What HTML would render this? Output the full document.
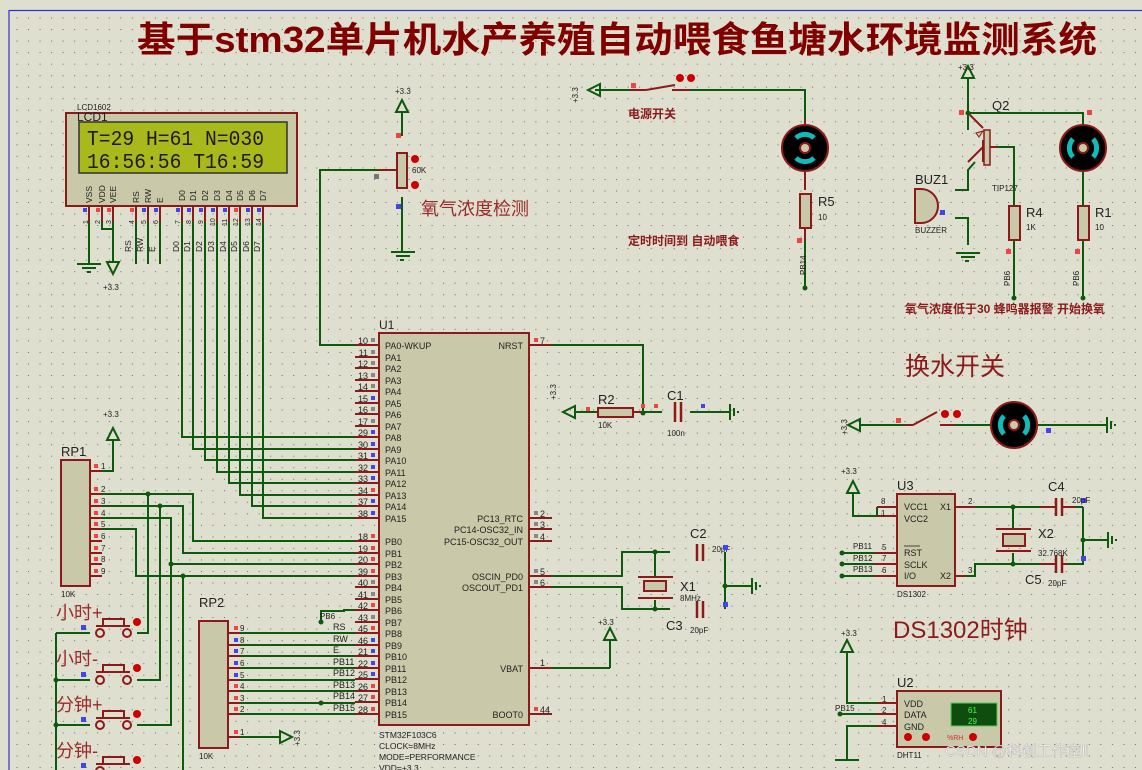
<!DOCTYPE html>
<html><head><meta charset="utf-8"><style>
html,body{margin:0;padding:0;background:#dfdfd0;}
svg{display:block;}
text{font-family:"Liberation Sans","Noto Sans CJK SC",sans-serif;}
text.mono{font-family:"Liberation Mono",monospace;}
</style></head><body>
<svg width="1142" height="770" viewBox="0 0 1142 770" xmlns="http://www.w3.org/2000/svg">
<defs>
<pattern id="g" x="5" y="6" width="11.53" height="11.53" patternUnits="userSpaceOnUse"><rect x="0" y="0" width="1" height="1" fill="#666"/></pattern>
</defs>
<rect width="1142" height="770" fill="#dfdfd0"/>
<rect x="9" y="11" width="1133" height="759" fill="url(#g)"/>
<line x1="9" y1="10.5" x2="1142" y2="10.5" stroke="#3030d0" stroke-width="1.2"/>
<line x1="9" y1="10" x2="9" y2="770" stroke="#3030d0" stroke-width="1.2"/>

<text x="137" y="52" font-size="36" font-weight="bold" fill="#800000" textLength="960" lengthAdjust="spacingAndGlyphs">基于stm32单片机水产养殖自动喂食鱼塘水环境监测系统</text>

<g stroke="#0d5a0d" stroke-width="2" fill="none">
<path d="M89 222V264M102 222V229H113V222M113 229V262M136 222V264M148 222V264M160 222V264"/>
<path d="M182 222V437H355M193 222V449H355M205 222V460H355M217 222V472H355M229 222V483H355M240 222V495H355M252 222V506H355M263 222V518H355"/>
<path d="M402 112V136M402 197V252M378 170H320V345H355"/>
<path d="M102 471H113V440"/>
<path d="M102 494H193V541H355M148 494V633H137"/>
<path d="M102 506H183V553H355M160 506V680H137"/>
<path d="M102 518H171V725H137M171 564H355"/>
<path d="M102 529H136V576H355M183 576V770"/>
<path d="M56 633V770M56 633H90M56 680H90M56 725H90"/>
<path d="M240 633H355M240 645H355M240 656H355M240 668H355M240 680H355M240 691H355M240 703H355M240 714H355M321 622V611H344V610H355M240 737H280"/>
<path d="M540 345H643V412M575 412H598M643 412H662M690 412H730"/>
<path d="M540 576H622V552H670M540 587H622V609H670M655 552V578M655 600V609M725 552V609M725 586H752M610 668H540M610 668V640"/>
<path d="M595 90H630M690 90H805V125M805 172V190M805 232V288"/>
<path d="M968 78V113H1083V125M968 113V130M975 162L968 170V190H955M955 218H968V245M995 147H1014V205M1014 240V298M1083 172V205M1083 240V298"/>
<path d="M860 425H905M955 425H990M1038 425H1107"/>
<path d="M853 493V516H877V507M877 516H887M842 553H875M842 564H875M842 576H875M975 507H1040M1013 507V530M1013 553V564H975V576H965M1013 564H1040M1083 507V564H1068M1083 540H1108M1075 507H1083"/>
<path d="M847 652V703H877M840 714H877M877 726H847V760"/>
</g>

<g stroke="#0d5a0d" stroke-width="2" fill="none">
<path d="M77 264H101M82 268H96M87 272H91"/>
<path d="M107 262L113 274L119 262Z"/>
<path d="M391 252H415M396 256H410M400 260H404"/>
<path d="M396 112L402 100L408 112Z"/>
<path d="M107 440L113 428L119 440Z"/>
<path d="M280 731L292 737L280 743Z"/>
<path d="M575 406L563 412L575 418Z"/>
<path d="M730 404V420M734 408V416M738 411V413"/>
<path d="M752 578V594M756 582V590M760 585V587"/>
<path d="M604 640L610 628L616 640Z"/>
<path d="M600 84L588 90L600 96Z"/>
<path d="M962 78L968 66L974 78Z"/>
<path d="M956 253H980M961 257H975M965 261H969"/>
<path d="M860 419L848 425L860 431Z"/>
<path d="M1107 417V433M1111 421V429M1115 424V426"/>
<path d="M847 493L853 481L859 493Z"/>
<path d="M1108 532V548M1112 536V544M1116 539V541"/>
<path d="M841 652L847 640L853 652Z"/>
<path d="M835 760H859"/>
</g>

<!-- LCD -->
<rect x="66" y="113" width="231" height="93" fill="#c9c9a9" stroke="#8b1a1a" stroke-width="2"/>
<rect x="79" y="122" width="208" height="51" fill="#a9b81a" stroke="#333" stroke-width="1.5"/>
<text class="mono" x="87" y="145" font-size="21" fill="#1a1a1a" textLength="177" lengthAdjust="spacingAndGlyphs">T=29 H=61 N=030</text>
<text class="mono" x="87" y="168" font-size="21" fill="#1a1a1a" textLength="177" lengthAdjust="spacingAndGlyphs">16:56:56 T16:59</text>
<text x="77" y="110" font-size="8" fill="#222">LCD1602</text>
<text x="77" y="121" font-size="12" fill="#222">LCD1</text>
<g font-size="8.5" fill="#222">
<text transform="translate(92,203) rotate(-90)">VSS</text>
<text transform="translate(105,203) rotate(-90)">VDD</text>
<text transform="translate(116,203) rotate(-90)">VEE</text>
<text transform="translate(139,203) rotate(-90)">RS</text>
<text transform="translate(151,203) rotate(-90)">RW</text>
<text transform="translate(163,203) rotate(-90)">E</text>
<text transform="translate(185,201) rotate(-90)">D0</text>
<text transform="translate(196,201) rotate(-90)">D1</text>
<text transform="translate(208,201) rotate(-90)">D2</text>
<text transform="translate(220,201) rotate(-90)">D3</text>
<text transform="translate(232,201) rotate(-90)">D4</text>
<text transform="translate(243,201) rotate(-90)">D5</text>
<text transform="translate(255,201) rotate(-90)">D6</text>
<text transform="translate(266,201) rotate(-90)">D7</text>
<text transform="translate(131,252) rotate(-90)">RS</text>
<text transform="translate(143,252) rotate(-90)">RW</text>
<text transform="translate(155,252) rotate(-90)">E</text>
<text transform="translate(179,252) rotate(-90)">D0</text>
<text transform="translate(190,252) rotate(-90)">D1</text>
<text transform="translate(202,252) rotate(-90)">D2</text>
<text transform="translate(214,252) rotate(-90)">D3</text>
<text transform="translate(226,252) rotate(-90)">D4</text>
<text transform="translate(237,252) rotate(-90)">D5</text>
<text transform="translate(249,252) rotate(-90)">D6</text>
<text transform="translate(260,252) rotate(-90)">D7</text>
</g>
<g stroke="#8b1a1a" stroke-width="2"><path d="M89 206V222M102 206V222M113 206V222M136 206V222M148 206V222M160 206V222M182 206V222M193 206V222M205 206V222M217 206V222M229 206V222M240 206V222M252 206V222M263 206V222"/></g>
<g font-size="7" fill="#222">
<text transform="translate(88,224) rotate(-90)">1</text><text transform="translate(100,224) rotate(-90)">2</text><text transform="translate(111,224) rotate(-90)">3</text><text transform="translate(134,224) rotate(-90)">4</text><text transform="translate(146,224) rotate(-90)">5</text><text transform="translate(158,224) rotate(-90)">6</text><text transform="translate(180,224) rotate(-90)">7</text><text transform="translate(191,224) rotate(-90)">8</text><text transform="translate(203,224) rotate(-90)">9</text><text transform="translate(215,226) rotate(-90)">10</text><text transform="translate(227,226) rotate(-90)">11</text><text transform="translate(238,226) rotate(-90)">12</text><text transform="translate(250,226) rotate(-90)">13</text><text transform="translate(261,226) rotate(-90)">14</text>
</g>
<g fill="#44e"><rect x="83" y="208" width="4" height="4"/><rect x="142" y="208" width="4" height="4"/><rect x="154" y="208" width="4" height="4"/><rect x="176" y="208" width="4" height="4"/><rect x="187" y="208" width="4" height="4"/><rect x="199" y="208" width="4" height="4"/><rect x="211" y="208" width="4" height="4"/><rect x="223" y="208" width="4" height="4"/><rect x="246" y="208" width="4" height="4"/><rect x="257" y="208" width="4" height="4"/></g>
<g fill="#e44"><rect x="96" y="208" width="4" height="4"/><rect x="107" y="208" width="4" height="4"/><rect x="130" y="208" width="4" height="4"/><rect x="234" y="208" width="4" height="4"/></g>
<text x="103" y="290" font-size="8" fill="#222">+3.3</text>

<!-- Pot -->
<rect x="397" y="153" width="10" height="35" fill="#c9c9a9" stroke="#8b1a1a" stroke-width="2"/>
<path d="M378 170H396" stroke="#8b1a1a" stroke-width="2"/>
<circle cx="415" cy="159" r="4" fill="#c00"/><circle cx="415" cy="185" r="4" fill="#c00"/>
<text x="412" y="173" font-size="8" fill="#222">60K</text>
<text x="395" y="94" font-size="8" fill="#222">+3.3</text>
<rect x="396" y="133" width="5" height="5" fill="#e44"/><rect x="374" y="174" width="5" height="5" fill="#777"/><rect x="396" y="204" width="5" height="5" fill="#44e"/>
<text x="421" y="215" font-size="18" fill="#9b2a2a">氧气浓度检测</text>

<!-- U1 -->
<text x="379" y="329" font-size="12" fill="#222">U1</text>
<rect x="379" y="333" width="150" height="392" fill="#c9c9a9" stroke="#8b1a1a" stroke-width="2"/>
<g stroke="#8b1a1a" stroke-width="2"><path d="M355 345H379M355 357H379M355 368H379M355 380H379M355 391H379M355 403H379M355 414H379M355 426H379M355 437H379M355 449H379M355 460H379M355 472H379M355 483H379M355 495H379M355 506H379M355 518H379M355 541H379M355 553H379M355 564H379M355 576H379M355 587H379M355 599H379M355 610H379M355 622H379M355 633H379M355 645H379M355 656H379M355 668H379M355 679H379M355 691H379M355 702H379M355 714H379M529 345H552M529 518H552M529 529H552M529 541H552M529 576H552M529 587H552M529 668H552M529 714H552"/></g>
<g fill="#888"><rect x="371" y="338" width="4" height="4"/><rect x="371" y="350" width="4" height="4"/><rect x="371" y="361" width="4" height="4"/><rect x="371" y="373" width="4" height="4"/><rect x="371" y="384" width="4" height="4"/><rect x="371" y="407" width="4" height="4"/><rect x="371" y="419" width="4" height="4"/><rect x="371" y="580" width="4" height="4"/><rect x="371" y="592" width="4" height="4"/><rect x="371" y="615" width="4" height="4"/><rect x="534" y="511" width="4" height="4"/><rect x="534" y="522" width="4" height="4"/><rect x="534" y="534" width="4" height="4"/><rect x="534" y="569" width="4" height="4"/><rect x="534" y="580" width="4" height="4"/></g>
<g fill="#44e"><rect x="371" y="396" width="4" height="4"/><rect x="371" y="430" width="4" height="4"/><rect x="371" y="442" width="4" height="4"/><rect x="371" y="453" width="4" height="4"/><rect x="371" y="465" width="4" height="4"/><rect x="371" y="476" width="4" height="4"/><rect x="371" y="499" width="4" height="4"/><rect x="371" y="511" width="4" height="4"/><rect x="371" y="638" width="4" height="4"/><rect x="371" y="649" width="4" height="4"/><rect x="371" y="661" width="4" height="4"/><rect x="371" y="672" width="4" height="4"/></g>
<g fill="#e44"><rect x="371" y="488" width="4" height="4"/><rect x="371" y="534" width="4" height="4"/><rect x="371" y="546" width="4" height="4"/><rect x="371" y="557" width="4" height="4"/><rect x="371" y="569" width="4" height="4"/><rect x="371" y="603" width="4" height="4"/><rect x="371" y="626" width="4" height="4"/><rect x="371" y="684" width="4" height="4"/><rect x="371" y="695" width="4" height="4"/><rect x="371" y="707" width="4" height="4"/><rect x="534" y="338" width="4" height="4"/><rect x="534" y="707" width="4" height="4"/></g>
<g font-size="9" fill="#222">
<text x="385" y="349">PA0-WKUP</text><text x="385" y="361">PA1</text><text x="385" y="372">PA2</text><text x="385" y="384">PA3</text><text x="385" y="395">PA4</text><text x="385" y="407">PA5</text><text x="385" y="418">PA6</text><text x="385" y="430">PA7</text><text x="385" y="441">PA8</text><text x="385" y="453">PA9</text><text x="385" y="464">PA10</text><text x="385" y="476">PA11</text><text x="385" y="487">PA12</text><text x="385" y="499">PA13</text><text x="385" y="510">PA14</text><text x="385" y="522">PA15</text>
<text x="385" y="545">PB0</text><text x="385" y="557">PB1</text><text x="385" y="568">PB2</text><text x="385" y="580">PB3</text><text x="385" y="591">PB4</text><text x="385" y="603">PB5</text><text x="385" y="614">PB6</text><text x="385" y="626">PB7</text><text x="385" y="637">PB8</text><text x="385" y="649">PB9</text><text x="385" y="660">PB10</text><text x="385" y="672">PB11</text><text x="385" y="683">PB12</text><text x="385" y="695">PB13</text><text x="385" y="706">PB14</text><text x="385" y="718">PB15</text>
<g text-anchor="end"><text x="523" y="349">NRST</text><text x="523" y="522">PC13_RTC</text><text x="523" y="533">PC14-OSC32_IN</text><text x="523" y="545">PC15-OSC32_OUT</text><text x="523" y="580">OSCIN_PD0</text><text x="523" y="591">OSCOUT_PD1</text><text x="523" y="672">VBAT</text><text x="523" y="718">BOOT0</text></g>
<g text-anchor="end"><text x="368" y="344">10</text><text x="368" y="356">11</text><text x="368" y="367">12</text><text x="368" y="379">13</text><text x="368" y="390">14</text><text x="368" y="402">15</text><text x="368" y="413">16</text><text x="368" y="425">17</text><text x="368" y="436">29</text><text x="368" y="448">30</text><text x="368" y="459">31</text><text x="368" y="471">32</text><text x="368" y="482">33</text><text x="368" y="494">34</text><text x="368" y="505">37</text><text x="368" y="517">38</text>
<text x="368" y="540">18</text><text x="368" y="552">19</text><text x="368" y="563">20</text><text x="368" y="575">39</text><text x="368" y="586">40</text><text x="368" y="598">41</text><text x="368" y="609">42</text><text x="368" y="621">43</text><text x="368" y="632">45</text><text x="368" y="644">46</text><text x="368" y="655">21</text><text x="368" y="667">22</text><text x="368" y="678">25</text><text x="368" y="690">26</text><text x="368" y="701">27</text><text x="368" y="713">28</text></g>
<text x="540" y="344">7</text><text x="540" y="517">2</text><text x="540" y="528">3</text><text x="540" y="540">4</text><text x="540" y="575">5</text><text x="540" y="586">6</text><text x="540" y="666">1</text><text x="540" y="713">44</text>
<text x="379" y="738" font-size="8.5">STM32F103C6</text><text x="379" y="749" font-size="8.5">CLOCK=8MHz</text><text x="379" y="760" font-size="8.5">MODE=PERFORMANCE</text><text x="379" y="771" font-size="8.5">VDD=+3.3</text>
<text x="333" y="630">RS</text><text x="333" y="642">RW</text><text x="333" y="653">E</text><text x="333" y="665">PB11</text><text x="333" y="676">PB12</text><text x="333" y="688">PB13</text><text x="333" y="699">PB14</text><text x="333" y="711">PB15</text><text x="320" y="619" font-size="8">PB6</text>
</g>
<g fill="#0d5a0d"><circle cx="321" cy="622" r="2.5"/><circle cx="321" cy="703" r="2.5"/></g>

<!-- R2 C1 -->
<text transform="translate(556,400) rotate(-90)" font-size="8" fill="#222">+3.3</text>
<rect x="598" y="408" width="35" height="9" fill="#c9c9a9" stroke="#8b1a1a" stroke-width="2"/>
<path d="M633 412H643" stroke="#8b1a1a" stroke-width="2"/>
<text x="598" y="404" font-size="13" fill="#222">R2</text><text x="598" y="428" font-size="8" fill="#222">10K</text>
<path d="M675 402V422M681 402V422" stroke="#8b1a1a" stroke-width="2.5"/>
<text x="667" y="400" font-size="13" fill="#222">C1</text><text x="667" y="436" font-size="8" fill="#222">100n</text>
<circle cx="643" cy="413" r="2.5" fill="#0d5a0d"/>
<rect x="586" y="407" width="4" height="4" fill="#e44"/><rect x="641" y="404" width="4" height="4" fill="#e44"/><rect x="654" y="404" width="4" height="4" fill="#e44"/><rect x="701" y="404" width="4" height="4" fill="#44e"/>

<!-- X1 C2 C3 -->
<path d="M697 544V561M703 544V561M697 601V618M703 601V618" stroke="#8b1a1a" stroke-width="2.5"/>
<rect x="644" y="581" width="22" height="10" fill="#c9c9a9" stroke="#8b1a1a" stroke-width="2"/>
<path d="M638 577H673M638 598H673" stroke="#8b1a1a" stroke-width="2"/>
<text x="690" y="538" font-size="13" fill="#222">C2</text><text x="712" y="552" font-size="8" fill="#222">20pF</text>
<text x="680" y="591" font-size="13" fill="#222">X1</text><text x="680" y="601" font-size="8" fill="#222">8MHz</text>
<text x="666" y="630" font-size="13" fill="#222">C3</text><text x="690" y="633" font-size="8" fill="#222">20pF</text>
<text x="598" y="625" font-size="8" fill="#222">+3.3</text>
<circle cx="655" cy="552" r="2.5" fill="#0d5a0d"/><circle cx="655" cy="609" r="2.5" fill="#0d5a0d"/><circle cx="725" cy="586" r="2.5" fill="#0d5a0d"/>
<rect x="723" y="545" width="5" height="5" fill="#44e"/><rect x="723" y="602" width="5" height="5" fill="#44e"/>

<!-- RP1 -->
<text x="61" y="456" font-size="13" fill="#222">RP1</text>
<rect x="61" y="460" width="29" height="126" fill="#c9c9a9" stroke="#8b1a1a" stroke-width="2"/>
<g stroke="#8b1a1a" stroke-width="2"><path d="M90 471H102M90 494H102M90 506H102M90 518H102M90 529H102M90 541H102M90 553H102M90 564H102M90 576H102"/></g>
<g fill="#e44"><rect x="94" y="464" width="4" height="4"/><rect x="94" y="487" width="4" height="4"/><rect x="94" y="499" width="4" height="4"/><rect x="94" y="511" width="4" height="4"/><rect x="94" y="522" width="4" height="4"/><rect x="94" y="534" width="4" height="4"/><rect x="94" y="546" width="4" height="4"/><rect x="94" y="557" width="4" height="4"/><rect x="94" y="569" width="4" height="4"/></g>
<g font-size="8" fill="#222"><text x="101" y="469">1</text><text x="101" y="492">2</text><text x="101" y="504">3</text><text x="101" y="516">4</text><text x="101" y="527">5</text><text x="101" y="539">6</text><text x="101" y="551">7</text><text x="101" y="562">8</text><text x="101" y="574">9</text><text x="61" y="597">10K</text><text x="103" y="417">+3.3</text></g>
<g fill="#0d5a0d"><circle cx="148" cy="494" r="2.5"/><circle cx="160" cy="506" r="2.5"/><circle cx="171" cy="564" r="2.5"/><circle cx="183" cy="576" r="2.5"/><circle cx="56" cy="680" r="2.5"/><circle cx="56" cy="725" r="2.5"/></g>

<!-- buttons -->
<g font-size="18" fill="#9b2a2a"><text x="56" y="619">小时+</text><text x="56" y="665">小时-</text><text x="56" y="711">分钟+</text><text x="56" y="757">分钟-</text></g>
<g stroke="#8b1a1a" stroke-width="2" fill="none">
<path d="M96 626H130M103 626V619H124V626"/><circle cx="100" cy="633" r="4"/><circle cx="127" cy="633" r="4"/>
<path d="M96 672H130M103 672V665H124V672"/><circle cx="100" cy="680" r="4"/><circle cx="127" cy="680" r="4"/>
<path d="M96 718H130M103 718V711H124V718"/><circle cx="100" cy="725" r="4"/><circle cx="127" cy="725" r="4"/>
<path d="M96 764H130M103 764V757H124V764"/><circle cx="100" cy="771" r="4"/>
</g>
<g fill="#c00"><circle cx="137" cy="622" r="4"/><circle cx="137" cy="668" r="4"/><circle cx="137" cy="714" r="4"/><circle cx="137" cy="760" r="4"/></g>
<g fill="#44e"><rect x="81" y="625" width="5" height="5"/><rect x="81" y="672" width="5" height="5"/><rect x="81" y="717" width="5" height="5"/><rect x="81" y="763" width="5" height="5"/></g>

<!-- RP2 -->
<text x="199" y="607" font-size="13" fill="#222">RP2</text>
<rect x="199" y="621" width="29" height="127" fill="#c9c9a9" stroke="#8b1a1a" stroke-width="2"/>
<g stroke="#8b1a1a" stroke-width="2"><path d="M228 633H240M228 645H240M228 656H240M228 668H240M228 680H240M228 691H240M228 703H240M228 714H240M228 737H240"/></g>
<g fill="#e44"><rect x="234" y="626" width="4" height="4"/><rect x="234" y="684" width="4" height="4"/><rect x="234" y="696" width="4" height="4"/><rect x="234" y="707" width="4" height="4"/><rect x="234" y="730" width="4" height="4"/></g>
<g fill="#44e"><rect x="234" y="638" width="4" height="4"/><rect x="234" y="649" width="4" height="4"/><rect x="234" y="661" width="4" height="4"/><rect x="234" y="673" width="4" height="4"/></g>
<g font-size="8" fill="#222"><text x="240" y="631">9</text><text x="240" y="643">8</text><text x="240" y="654">7</text><text x="240" y="666">6</text><text x="240" y="678">5</text><text x="240" y="689">4</text><text x="240" y="701">3</text><text x="240" y="712">2</text><text x="240" y="735">1</text><text x="199" y="759">10K</text><text transform="translate(300,746) rotate(-90)">+3.3</text></g>

<!-- Top middle -->
<text transform="translate(578,103) rotate(-90)" font-size="8" fill="#222">+3.3</text>
<path d="M630 90H646M646 90L675 85M672 90H690" stroke="#8b1a1a" stroke-width="2" fill="none"/>
<circle cx="680" cy="78" r="4" fill="#c00"/><circle cx="691" cy="78" r="4" fill="#c00"/>
<rect x="631" y="83" width="5" height="5" fill="#e44"/>
<text x="628" y="118" font-size="12" font-weight="bold" fill="#8b1a1a">电源开关</text>
<circle cx="805" cy="148" r="23" fill="#000" stroke="#8b1a1a" stroke-width="2"/>
<path d="M796 138A13 13 0 0 1 814 138M796 158A13 13 0 0 0 814 158" stroke="#11bbbb" stroke-width="5" fill="none"/>
<circle cx="805" cy="148" r="5" fill="#c9c9a9" stroke="#8b1a1a" stroke-width="2"/>
<path d="M805 125V120M805 172V190M805 228V240" stroke="#8b1a1a" stroke-width="2"/>
<rect x="800" y="194" width="11" height="34" fill="#c9c9a9" stroke="#8b1a1a" stroke-width="2"/>
<text x="818" y="206" font-size="13" fill="#222">R5</text><text x="818" y="220" font-size="8" fill="#222">10</text>
<text transform="translate(806,275) rotate(-90)" font-size="8" fill="#222">PB14</text>
<rect x="797" y="238" width="5" height="5" fill="#e44"/>
<text x="628" y="245" font-size="12" font-weight="bold" fill="#8b1a1a">定时时间到 自动喂食</text>
<circle cx="805" cy="288" r="2.5" fill="#0d5a0d"/>

<!-- Right top -->
<text x="958" y="70" font-size="8" fill="#222">+3.3</text>
<text x="992" y="110" font-size="13" fill="#222">Q2</text>
<path d="M968 113L983 128M983 140V162M983 147L968 162" stroke="#8b1a1a" stroke-width="2" fill="none"/>
<rect x="984" y="130" width="6" height="35" fill="#c9c9a9" stroke="#8b1a1a" stroke-width="1.5"/>
<path d="M990 147H997" stroke="#8b1a1a" stroke-width="2"/>
<path d="M976 133L983 131L979 137Z" fill="#c9c9a9" stroke="#8b1a1a"/>
<text x="992" y="191" font-size="8" fill="#222">TIP127</text>
<text x="915" y="184" font-size="13" fill="#222">BUZ1</text>
<path d="M915 189V223H921A17 17 0 0 0 921 189Z" fill="#c9c9a9" stroke="#8b1a1a" stroke-width="2"/>
<text x="915" y="233" font-size="8" fill="#222">BUZZER</text>
<rect x="940" y="210" width="5" height="5" fill="#44e"/><rect x="959" y="110" width="5" height="5" fill="#e44"/><rect x="1087" y="110" width="5" height="5" fill="#e44"/>
<circle cx="1083" cy="148" r="23" fill="#000" stroke="#8b1a1a" stroke-width="2"/>
<path d="M1073 139A13 13 0 0 0 1073 157M1093 139A13 13 0 0 1 1093 157" stroke="#11bbbb" stroke-width="5" fill="none"/>
<circle cx="1083" cy="148" r="5" fill="#c9c9a9" stroke="#8b1a1a" stroke-width="2"/>
<rect x="1009" y="206" width="11" height="34" fill="#c9c9a9" stroke="#8b1a1a" stroke-width="2"/>
<rect x="1078" y="206" width="11" height="34" fill="#c9c9a9" stroke="#8b1a1a" stroke-width="2"/>
<rect x="1006" y="249" width="5" height="5" fill="#e44"/><rect x="1075" y="249" width="5" height="5" fill="#e44"/>
<text x="1026" y="217" font-size="13" fill="#222">R4</text><text x="1026" y="230" font-size="8" fill="#222">1K</text>
<text x="1095" y="217" font-size="13" fill="#222">R1</text><text x="1095" y="230" font-size="8" fill="#222">10</text>
<text transform="translate(1010,286) rotate(-90)" font-size="8" fill="#222">PB6</text>
<text transform="translate(1079,286) rotate(-90)" font-size="8" fill="#222">PB6</text>
<circle cx="968" cy="113" r="2.5" fill="#0d5a0d"/><circle cx="1014" cy="298" r="2.5" fill="#0d5a0d"/><circle cx="1083" cy="298" r="2.5" fill="#0d5a0d"/>
<text x="905" y="313" font-size="12" font-weight="bold" fill="#8b1a1a">氧气浓度低于30  蜂鸣器报警 开始换氧</text>

<text x="905" y="375" font-size="25" fill="#8b1a1a">换水开关</text>
<text transform="translate(847,435) rotate(-90)" font-size="8" fill="#222">+3.3</text>
<path d="M905 425H913M913 425L937 412M940 425H955" stroke="#8b1a1a" stroke-width="2" fill="none"/>
<circle cx="945" cy="414" r="4" fill="#c00"/><circle cx="957" cy="414" r="4" fill="#c00"/>
<rect x="896" y="418" width="5" height="5" fill="#e44"/><rect x="1046" y="428" width="5" height="5" fill="#44e"/>
<circle cx="1014" cy="425" r="23" fill="#000" stroke="#8b1a1a" stroke-width="2"/>
<path d="M1004 416A13 13 0 0 0 1004 434M1024 416A13 13 0 0 1 1024 434" stroke="#11bbbb" stroke-width="5" fill="none"/>
<circle cx="1014" cy="425" r="5" fill="#c9c9a9" stroke="#8b1a1a" stroke-width="2"/>

<!-- U3 -->
<text x="841" y="474" font-size="8" fill="#222">+3.3</text>
<text x="897" y="490" font-size="13" fill="#222">U3</text>
<rect x="897" y="494" width="58" height="92" fill="#c9c9a9" stroke="#8b1a1a" stroke-width="2"/>
<g stroke="#8b1a1a" stroke-width="2"><path d="M877 507H897M877 516H897M875 553H897M875 564H897M875 576H897M955 507H975M955 576H965"/></g>
<g font-size="9" fill="#222"><text x="904" y="510">VCC1</text><text x="904" y="522">VCC2</text><text x="904" y="556">RST</text><text x="904" y="568">SCLK</text><text x="904" y="579">I/O</text><text x="940" y="510">X1</text><text x="940" y="579">X2</text>
<text x="881" y="504" font-size="8">8</text><text x="881" y="516" font-size="8">1</text><text x="882" y="550" font-size="8">5</text><text x="882" y="561" font-size="8">7</text><text x="882" y="573" font-size="8">6</text><text x="968" y="504" font-size="8">2</text><text x="968" y="573" font-size="8">3</text>
<text x="853" y="549" font-size="8">PB11</text><text x="853" y="561" font-size="8">PB12</text><text x="853" y="572" font-size="8">PB13</text><text x="897" y="597" font-size="8">DS1302</text></g>
<path d="M904 546H920" stroke="#222" stroke-width="0.8"/>
<g fill="#0d5a0d"><circle cx="842" cy="553" r="2.5"/><circle cx="842" cy="564" r="2.5"/><circle cx="842" cy="576" r="2.5"/><circle cx="1013" cy="507" r="2.5"/><circle cx="1013" cy="564" r="2.5"/><circle cx="1083" cy="540" r="2.5"/><circle cx="840" cy="714" r="2.5"/></g>
<rect x="1003" y="534" width="22" height="12" fill="#c9c9a9" stroke="#8b1a1a" stroke-width="2"/>
<path d="M996 529H1031M996 551H1031" stroke="#8b1a1a" stroke-width="2"/>
<path d="M1056 498V516M1062 498V516M1056 555V573M1062 555V573" stroke="#8b1a1a" stroke-width="2.5"/>
<path d="M1040 507H1056M1062 507H1075M1040 564H1056M1062 564H1068" stroke="#8b1a1a" stroke-width="2"/>
<rect x="1081" y="498" width="5" height="5" fill="#44e"/><rect x="1081" y="556" width="5" height="5" fill="#44e"/>
<text x="1038" y="538" font-size="13" fill="#222">X2</text><text x="1038" y="556" font-size="8" fill="#222">32.768K</text>
<text x="1048" y="491" font-size="13" fill="#222">C4</text><text x="1072" y="503" font-size="8" fill="#222">20pF</text>
<text x="1025" y="584" font-size="13" fill="#222">C5</text><text x="1048" y="586" font-size="8" fill="#222">20pF</text>

<text x="893" y="638" font-size="24" fill="#8b1a1a">DS1302时钟</text>

<!-- U2 -->
<text x="841" y="636" font-size="8" fill="#222">+3.3</text>
<text x="897" y="687" font-size="13" fill="#222">U2</text>
<rect x="897" y="691" width="104" height="56" fill="#c9c9a9" stroke="#8b1a1a" stroke-width="2"/>
<g stroke="#8b1a1a" stroke-width="2"><path d="M877 703H897M877 714H897M877 726H897"/></g>
<rect x="951" y="703" width="46" height="23" fill="#0f4d0f" stroke="#55cc55"/>
<text x="968" y="713" font-size="8" fill="#44ff44">61</text><text x="968" y="724" font-size="8" fill="#44ff44">29</text>
<g font-size="9" fill="#222"><text x="904" y="707">VDD</text><text x="904" y="718">DATA</text><text x="904" y="730">GND</text>
<text x="882" y="702" font-size="8">1</text><text x="882" y="713" font-size="8">2</text><text x="882" y="725" font-size="8">4</text><text x="835" y="711" font-size="8">PB15</text><text x="897" y="758" font-size="8">DHT11</text></g>
<g fill="#c00"><circle cx="908" cy="737" r="4"/><circle cx="926" cy="737" r="4"/><circle cx="973" cy="737" r="4"/></g>
<text x="947" y="740" font-size="7" fill="#c33">%RH</text>

<text x="945" y="756" font-size="15" fill="#f4f4f4" stroke="#999" stroke-width="0.3">CSDN @科创工作室li</text>
</svg>
</body></html>
